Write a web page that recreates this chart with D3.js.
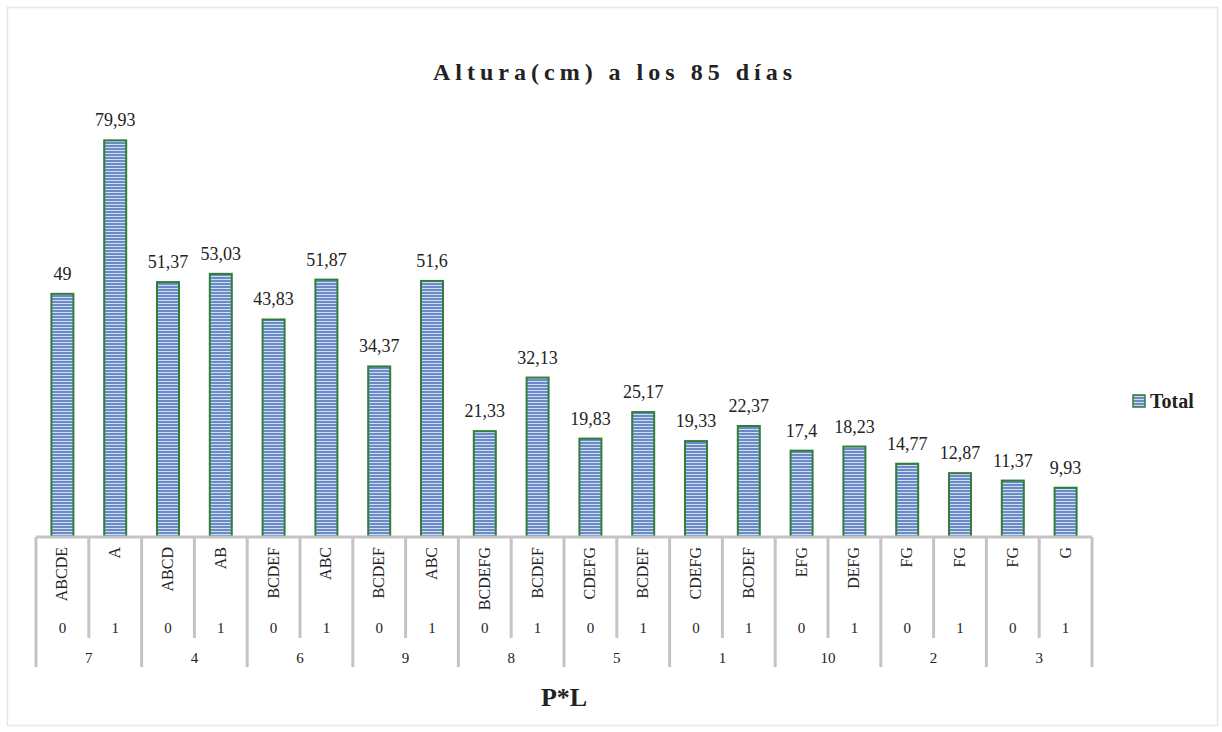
<!DOCTYPE html>
<html>
<head>
<meta charset="utf-8">
<script src="https://cdn.jsdelivr.net/npm/d3@7"></script>
<style>
  body { margin: 0; background: #fff; }
  text { font-family: "Liberation Serif", "Times New Roman", serif; fill: #222; }
</style>
</head>
<body>
<div id="chart"></div>
<script>
'use strict';

// Data
var groups = ['7', '7', '4', '4', '6', '6', '9', '9', '8', '8', '5', '5', '1', '1', '10', '10', '2', '2', '3', '3'];
var levels = ['0', '1', '0', '1', '0', '1', '0', '1', '0', '1', '0', '1', '0', '1', '0', '1', '0', '1', '0', '1'];
var letters = ['ABCDE', 'A', 'ABCD', 'AB', 'BCDEF', 'ABC', 'BCDEF', 'ABC', 'BCDEFG', 'BCDEF',
  'CDEFG', 'BCDEF', 'CDEFG', 'BCDEF', 'EFG', 'DEFG', 'FG', 'FG', 'FG', 'G'];
var values = [49, 79.93, 51.37, 53.03, 43.83, 51.87, 34.37, 51.6, 21.33, 32.13,
  19.83, 25.17, 19.33, 22.37, 17.4, 18.23, 14.77, 12.87, 11.37, 9.93];

var width = 1222, height = 732;
var margin = {top: 140, left: 36, right: 130, bottom: 195};
var plotW = width - margin.left - margin.right;
var plotH = height - margin.top - margin.bottom;

var data = values.map(function(v, i) {
  return {key: i, value: v, letter: letters[i], level: levels[i], group: groups[i]};
});

var svg = d3.select('#chart').append('svg')
  .attr('width', width)
  .attr('height', height);

// Hatched fill for the bars
var defs = svg.append('defs');
var pat = defs.append('pattern')
  .attr('id', 'stripes')
  .attr('patternUnits', 'userSpaceOnUse')
  .attr('width', 6).attr('height', 3);
pat.append('rect').attr('width', 6).attr('height', 3).attr('fill', '#6a8bc8');
pat.append('rect').attr('y', 1).attr('width', 6).attr('height', 1).attr('fill', '#d0dcf0');

// Frame
svg.append('rect')
  .attr('x', 7.5).attr('y', 7.5)
  .attr('width', 1210).attr('height', 718)
  .attr('fill', 'none')
  .attr('stroke', '#e6e6e6')
  .attr('stroke-width', 1.5);

var g = svg.append('g')
  .attr('transform', 'translate(' + margin.left + ',' + margin.top + ')');

var x = d3.scaleBand()
  .domain(data.map(function(d) { return d.key; }))
  .range([0, plotW])
  .paddingInner(0)
  .paddingOuter(0);

var y = d3.scaleLinear()
  .domain([0, 80])
  .range([plotH, 0]);

var barW = 22;

// Bars
g.selectAll('rect.bar')
  .data(data)
  .enter().append('rect')
  .attr('class', 'bar')
  .attr('x', function(d) { return x(d.key) + (x.bandwidth() - barW) / 2; })
  .attr('y', function(d) { return y(d.value); })
  .attr('width', barW)
  .attr('height', function(d) { return plotH - y(d.value); })
  .attr('fill', 'url(#stripes)')
  .attr('stroke', '#2f7f3a')
  .attr('stroke-width', 2);

// Value labels
g.selectAll('text.val')
  .data(data)
  .enter().append('text')
  .attr('class', 'val')
  .attr('x', function(d) { return x(d.key) + x.bandwidth() / 2; })
  .attr('y', function(d) { return y(d.value) - 14; })
  .attr('text-anchor', 'middle')
  .style('font-size', '18px')
  .text(function(d) { return String(d.value).replace('.', ','); });

// Multi-level category axis
var axis = g.append('g').attr('transform', 'translate(0,' + plotH + ')');
var lineColor = '#c4c4c4';

axis.append('line')
  .attr('x1', 0).attr('x2', plotW)
  .attr('y1', 0).attr('y2', 0)
  .attr('stroke', lineColor).attr('stroke-width', 3);

// Separators: inner ones short, group boundaries long
d3.range(data.length + 1).forEach(function(i) {
  var xp = i < data.length ? x(i) : plotW;
  var isGroupEdge = i === 0 || i === data.length || groups[i] !== groups[i - 1];
  axis.append('line')
    .attr('x1', xp).attr('x2', xp)
    .attr('y1', 0).attr('y2', isGroupEdge ? 130 : 101)
    .attr('stroke', lineColor).attr('stroke-width', 3);
});

axis.selectAll('text.letter')
  .data(data)
  .enter().append('text')
  .attr('class', 'letter')
  .attr('transform', function(d) {
    return 'translate(' + (x(d.key) + x.bandwidth() / 2 + 5) + ',10) rotate(-90)';
  })
  .attr('text-anchor', 'end')
  .style('font-size', '16px')
  .text(function(d) { return d.letter; });

axis.selectAll('text.level')
  .data(data)
  .enter().append('text')
  .attr('class', 'level')
  .attr('x', function(d) { return x(d.key) + x.bandwidth() / 2; })
  .attr('y', 96)
  .attr('text-anchor', 'middle')
  .style('font-size', '15px')
  .text(function(d) { return d.level; });

var groupNames = [];
groups.forEach(function(gr, i) {
  if (i === 0 || gr !== groups[i - 1]) groupNames.push({name: gr, start: i});
});

axis.selectAll('text.group')
  .data(groupNames)
  .enter().append('text')
  .attr('class', 'group')
  .attr('x', function(d) { return x(d.start) + x.bandwidth(); })
  .attr('y', 126)
  .attr('text-anchor', 'middle')
  .style('font-size', '15px')
  .text(function(d) { return d.name; });

// Axis title
svg.append('text')
  .attr('x', margin.left + plotW / 2)
  .attr('y', 706)
  .attr('text-anchor', 'middle')
  .style('font-size', '26px')
  .style('font-weight', 'bold')
  .text('P*L');

// Chart title
svg.append('text')
  .attr('x', 615)
  .attr('y', 80)
  .attr('text-anchor', 'middle')
  .style('font-size', '24px')
  .style('font-weight', 'bold')
  .style('letter-spacing', '5px')
  .text('Altura(cm) a los 85 días');

// Legend
var legend = svg.append('g').attr('transform', 'translate(1133,395)');
legend.append('rect')
  .attr('width', 12).attr('height', 12)
  .attr('fill', 'url(#stripes)')
  .attr('stroke', '#2f7f3a')
  .attr('stroke-width', 1.5);
legend.append('text')
  .attr('x', 17).attr('y', 12.5)
  .style('font-size', '20px')
  .style('font-weight', 'bold')
  .text('Total');
</script>
</body>
</html>
